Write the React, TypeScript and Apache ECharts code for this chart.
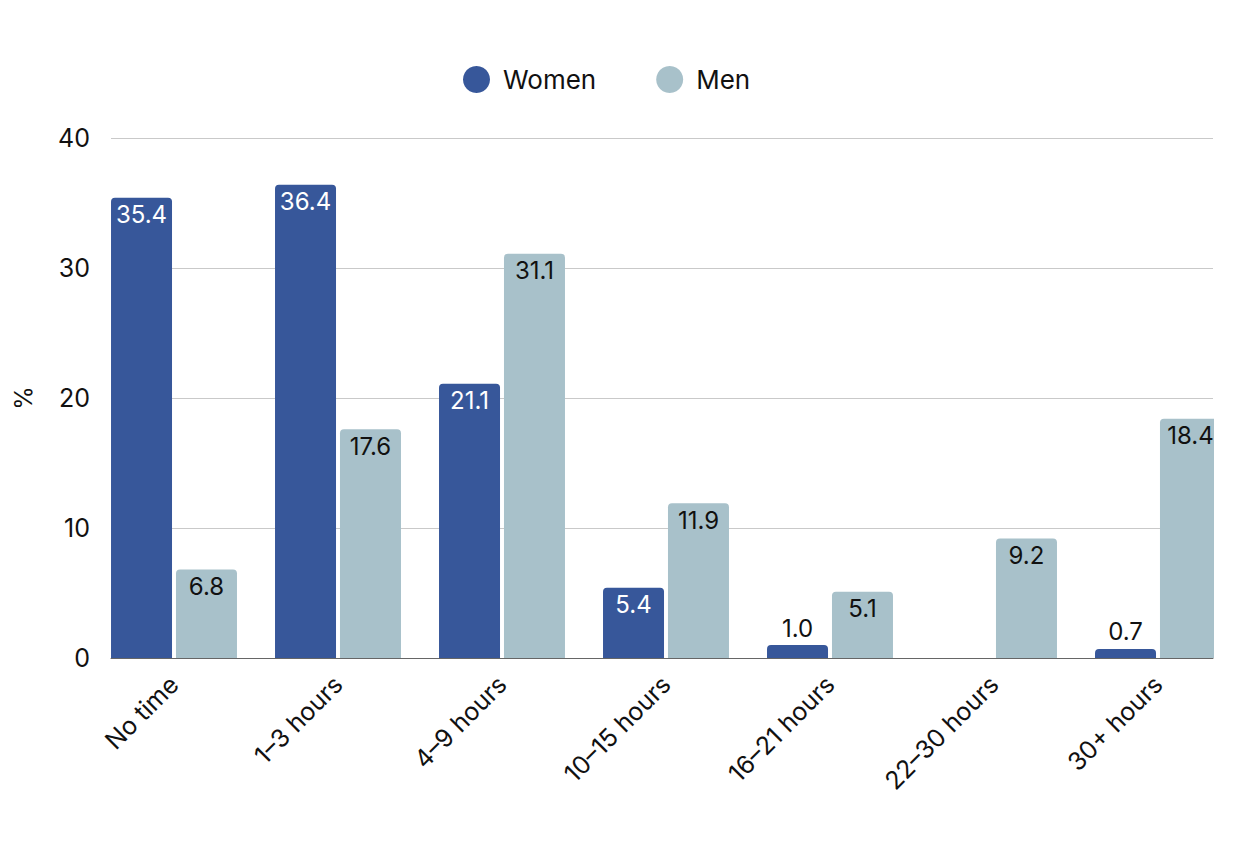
import React, { useEffect, useRef } from "react";
import * as echarts from "echarts";

const categories = ["No time", "1–3 hours", "4–9 hours", "10–15 hours", "16–21 hours", "22–30 hours", "30+ hours"];
const women: (number | null)[] = [35.4, 36.4, 21.1, 5.4, 1.0, null, 0.7];
const men: number[] = [6.8, 17.6, 31.1, 11.9, 5.1, 9.2, 18.4];
const yTicks = { min: 0, max: 40, interval: 10 };

const FONT = "Inter";
const WOMEN_COLOR = "#37579a";
const MEN_COLOR = "#a8c1ca";

function barData(values: (number | null)[], insideColor: string) {
  return values.map((v) => {
    if (v === null) return { value: null };
    const small = v < 3;
    return {
      value: v,
      label: {
        position: small ? "top" : "insideTop",
        color: small ? "#111111" : insideColor,
      },
    };
  });
}

export default function App() {
  const ref = useRef<HTMLDivElement>(null);
  useEffect(() => {
    if (!ref.current) return;
    const chart = echarts.init(ref.current, null, { renderer: "svg" });
    const labelCommon = {
      show: true,
      fontFamily: FONT,
      fontSize: 24,
      distance: 5,
      formatter: (p: any) => (p.value == null ? "" : Number(p.value).toFixed(1)),
    };
    chart.setOption({
      animation: false,
      backgroundColor: "#ffffff",
      textStyle: { fontFamily: FONT },
      legend: {
        left: 463,
        top: 66,
        padding: 0,
        icon: "circle",
        itemWidth: 27,
        itemHeight: 27,
        itemGap: 60,
        textStyle: { fontFamily: FONT, fontSize: 26, color: "#111111", padding: [0, 0, 0, 8] },
        data: ["Women", "Men"],
      },
      grid: [
        { left: 111, right: 35, top: 138, bottom: 186 },
        { left: 92, right: 8, top: 138, bottom: 186 },
      ],
      xAxis: [
        {
          gridIndex: 0,
          type: "value",
          min: 0,
          max: 1,
          axisLabel: { show: false },
          axisTick: { show: false },
          splitLine: { show: false },
          axisLine: { show: true, lineStyle: { color: "#666666", width: 1 } },
        },
        {
          gridIndex: 1,
          type: "category",
          data: categories,
          axisLine: { show: false },
          axisTick: { show: false },
          axisLabel: {
            rotate: 45,
            margin: 22,
            fontFamily: FONT,
            fontSize: 25,
            color: "#111111",
            interval: 0,
          },
        },
      ],
      yAxis: [
        {
          gridIndex: 0,
          type: "value",
          min: yTicks.min,
          max: yTicks.max,
          interval: yTicks.interval,
          name: "%",
          nameLocation: "middle",
          nameRotate: 90,
          nameGap: 76,
          nameTextStyle: { fontFamily: FONT, fontSize: 24, color: "#111111" },
          axisLine: { show: false },
          axisTick: { show: false },
          axisLabel: { margin: 21, fontFamily: FONT, fontSize: 25, color: "#111111" },
          splitLine: { show: true, lineStyle: { color: "#c9c9c9", width: 1 } },
        },
        {
          gridIndex: 1,
          type: "value",
          min: yTicks.min,
          max: yTicks.max,
          interval: yTicks.interval,
          show: false,
          splitLine: { show: false },
        },
      ],
      series: [
        {
          name: "Women",
          type: "bar",
          xAxisIndex: 1,
          yAxisIndex: 1,
          barWidth: 61,
          barGap: "6.5%",
          itemStyle: { color: WOMEN_COLOR, borderRadius: [4, 4, 0, 0] },
          label: { ...labelCommon, color: "#ffffff" },
          data: barData(women, "#ffffff"),
        },
        {
          name: "Men",
          type: "bar",
          xAxisIndex: 1,
          yAxisIndex: 1,
          barWidth: 61,
          barGap: "6.5%",
          itemStyle: { color: MEN_COLOR, borderRadius: [4, 4, 0, 0] },
          label: { ...labelCommon, color: "#111111" },
          data: barData(men, "#111111"),
        },
      ],
      graphic: [
        {
          type: "rect",
          z: 3,
          shape: { x: 1214, y: 380, width: 40, height: 290 },
          style: { fill: "#ffffff" },
          silent: true,
        },
      ],
    });
    return () => chart.dispose();
  }, []);
  return <div ref={ref} style={{ position: "fixed", left: 0, top: 0, width: 1248, height: 844 }} />;
}
